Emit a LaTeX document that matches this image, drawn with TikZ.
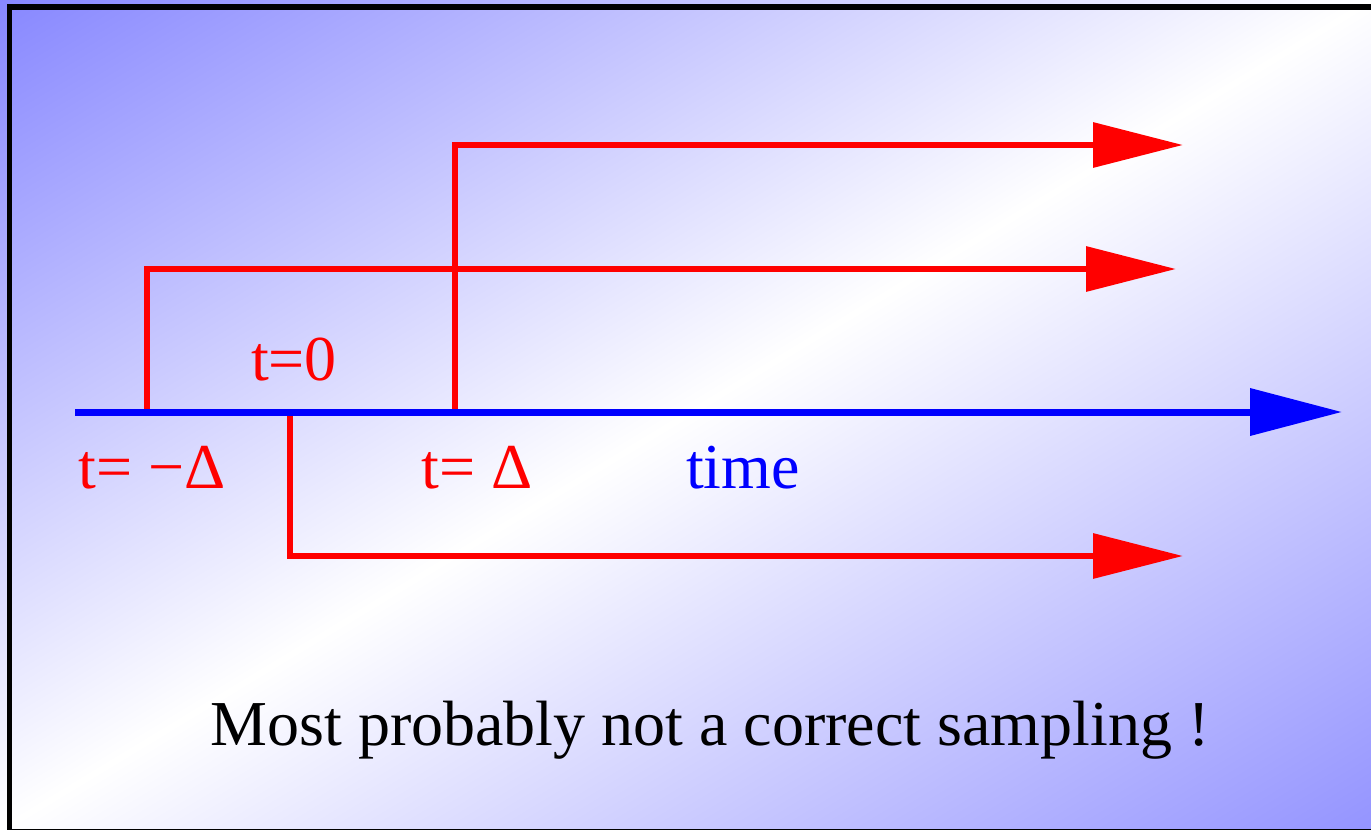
\documentclass[tikz,border=0pt]{standalone}
\usepackage{fontspec}
\setmainfont{Liberation Serif}
\usetikzlibrary{arrows.meta, positioning}
\tikzset{
  timeaxis/.style={-{Triangle[length=46pt,width=23pt]}, line width=3.5pt, color=blue},
  history/.style={-{Triangle[length=45pt,width=22pt]}, line width=3.2pt, color=red},
  tlabel/.style={inner sep=0pt, anchor=base, text=red, font=\fontsize{32}{36}\selectfont},
  panel/.style={transform canvas={cm={3.4275,2.075,3.4275,-2.075,(0,0)}},
    bottom color=blue!47, top color=blue!42, middle color=white}
}

\begin{document}
\begin{tikzpicture}[x=0.5pt,y=-0.5pt]
  \useasboundingbox (0,0) rectangle (1371,830);
  \clip (0,0) rectangle (1371,830);
  % diagonal background, corner to corner
  \shade[panel] (-100pt,0pt) rectangle (100pt,200pt);
  \draw[line width=2.8pt] (9.5,7) rectangle (1395,832);
  % sample points on the axis
  \coordinate (axisL) at (75,412);
  \coordinate (axisR) at (1342,412);
  \coordinate (tminus) at (147,412);
  \coordinate (tzero) at (290,412);
  \coordinate (tplus) at (455,412);
  \coordinate (endA) at (1176,269);
  \coordinate (endB) at (1183,145);
  \coordinate (endC) at (1183,556);
  % trajectories
  \draw[history] (tminus) |- (endA);
  \draw[history] (tplus) |- (endB);
  \draw[history] (tzero) |- (endC);
  \draw[timeaxis] (axisL) -- (axisR);
  % labels
  \node[tlabel] (lzero) at (294,380) {t=0};
  \node[tlabel] (lminus) at (152,488) {t= −Δ};
  \node[tlabel] (lplus) at (477,488) {t= Δ};
  \node[tlabel, text=blue] (ltime) at (743,488) {time};
  \node[tlabel, text=black] (verdict) at (710,745) {Most probably not a correct sampling !};
\end{tikzpicture}
\end{document}
